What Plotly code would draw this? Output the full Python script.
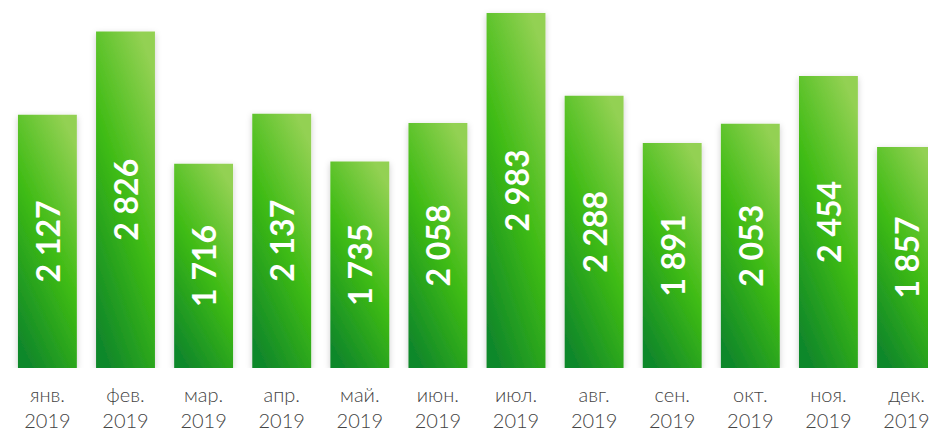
import plotly.graph_objects as go

months = ["янв.", "фев.", "мар.", "апр.", "май.", "июн.", "июл.", "авг.", "сен.", "окт.", "ноя.", "дек."]
year = "2019"
values = [2127, 2826, 1716, 2137, 1735, 2058, 2983, 2288, 1891, 2053, 2454, 1857]

categories = [f"{m}<br>{year}" for m in months]
labels = [f"{v:,}".replace(",", " ") for v in values]

fig = go.Figure(go.Bar(
    x=categories, y=values,
    text=labels,
    textposition="inside",
    insidetextanchor="middle",
    textangle=-90,
    textfont=dict(family="Lato", size=32, color="white", weight="bold"),
    marker=dict(color="#3cb916", line=dict(width=0)),
    hoverinfo="skip",
))

fig.update_layout(
    width=930, height=432,
    margin=dict(l=0, r=0, t=0, b=62),
    paper_bgcolor="white", plot_bgcolor="white",
    bargap=0.246,
    showlegend=False,
    xaxis=dict(range=[-0.607, 11.275], showgrid=False, zeroline=False, showline=False,
               ticks="", ticklabelstandoff=13,
               tickfont=dict(family="Lato", size=20, color="#444", weight=300)),
    yaxis=dict(range=[0, 3091.6], visible=False, showgrid=False, zeroline=False),
)

post = """
(function(){
  document.body.style.margin = '0';
  var gd = document.querySelector('.js-plotly-plot');
  var svg = gd.querySelector('svg.main-svg');
  var ns = 'http://www.w3.org/2000/svg';
  var defs = svg.querySelector('defs') || svg.insertBefore(document.createElementNS(ns,'defs'), svg.firstChild);
  var lg = document.createElementNS(ns,'linearGradient');
  lg.setAttribute('id','barGrad');
  lg.setAttribute('x1','0.75'); lg.setAttribute('y1','0');
  lg.setAttribute('x2','0.25'); lg.setAttribute('y2','1');
  [['0','#93d153'],['0.5','#3ebb14'],['1','#11882a']].forEach(function(s){
    var st = document.createElementNS(ns,'stop');
    st.setAttribute('offset', s[0]); st.setAttribute('stop-color', s[1]);
    lg.appendChild(st);
  });
  defs.appendChild(lg);
  var f = document.createElementNS(ns,'filter');
  f.setAttribute('id','barShadow');
  f.setAttribute('x','-30%'); f.setAttribute('y','-10%');
  f.setAttribute('width','160%'); f.setAttribute('height','120%');
  var ds = document.createElementNS(ns,'feDropShadow');
  ds.setAttribute('dx','0'); ds.setAttribute('dy','2');
  ds.setAttribute('stdDeviation','3');
  ds.setAttribute('flood-color','#000'); ds.setAttribute('flood-opacity','0.2');
  f.appendChild(ds);
  defs.appendChild(f);
  gd.querySelectorAll('.bars .point path').forEach(function(p){
    p.style.fill = 'url(#barGrad)';
    p.style.filter = 'url(#barShadow)';
  });
})();
"""

fig.write_html("out.html", post_script=post, config={"displayModeBar": False})
